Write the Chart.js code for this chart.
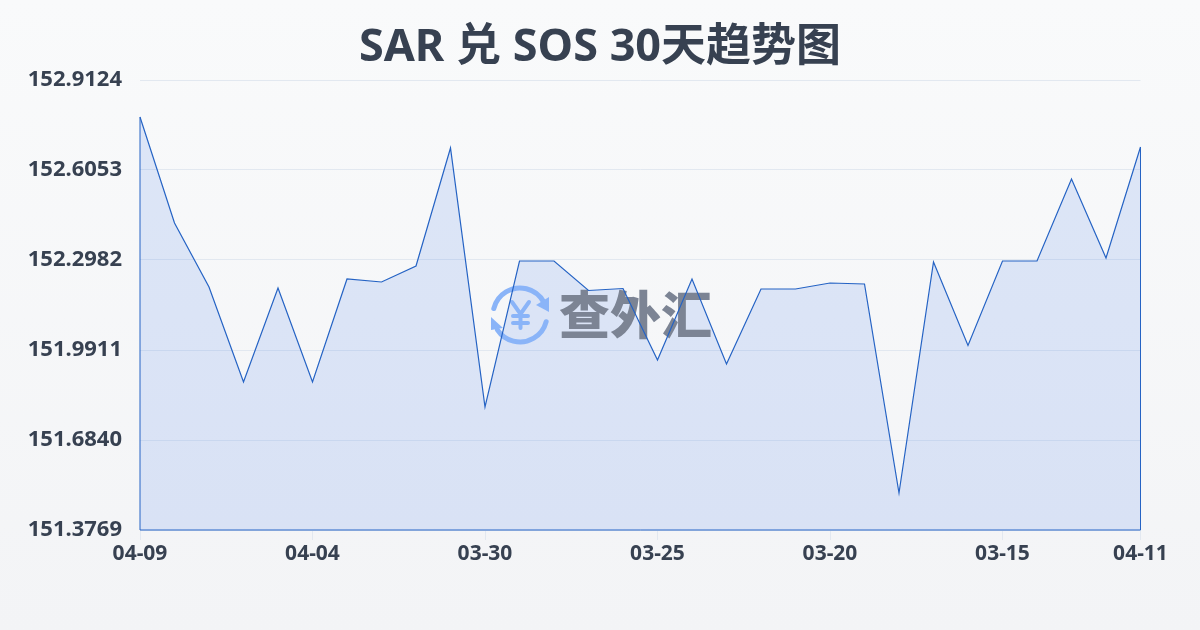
<!DOCTYPE html>
<html>
<head>
<meta charset="utf-8">
<style>
html, body { margin: 0; padding: 0; width: 1200px; height: 630px; overflow: hidden; background: linear-gradient(180deg, #f9fafb, #f3f4f6); }
canvas { display: block; }
</style>
<script src="https://cdn.jsdelivr.net/npm/chart.js@4/dist/chart.umd.min.js"></script>
</head>
<body>
<canvas id="rateChart" width="1200" height="630"></canvas>
<script>
const ctx = document.getElementById('rateChart');
const fontFamily = '"Noto Sans", "Noto Sans CJK SC", sans-serif';

// Data
const dates = ['04-09', '04-08', '04-07', '04-06', '04-05', '04-04', '04-03', '04-02', '04-01', '03-31',
    '03-30', '03-29', '03-28', '03-27', '03-26', '03-25', '03-24', '03-23', '03-22', '03-21',
    '03-20', '03-19', '03-18', '03-17', '03-16', '03-15', '03-14', '03-13', '03-12', '04-11'];
const rates = [152.7862, 152.4244, 152.2061, 151.8819, 152.2027, 151.8819, 152.2334, 152.2231, 152.2777, 152.6804,
    151.7966, 152.2948, 152.2948, 152.1941, 152.2009, 151.9570, 152.2334, 151.9433, 152.1992, 152.1992,
    152.2197, 152.2163, 151.5032, 152.2914, 152.0065, 152.2948, 152.2948, 152.5746, 152.3050, 152.6838];
const xTicks = ['04-09', '04-04', '03-30', '03-25', '03-20', '03-15', '04-11'];
const yTicks = [151.3769, 151.6840, 151.9911, 152.2982, 152.6053, 152.9124];

const lineColor = '#2563c4';

// Closes the area outline down the sides and along the bottom
const areaFrame = {
    id: 'areaFrame',
    afterDatasetsDraw(chart) {
        const { left, right, bottom } = chart.chartArea;
        const points = chart.getDatasetMeta(0).data;
        const c = chart.ctx;
        c.save();
        c.strokeStyle = lineColor;
        c.lineWidth = 1;
        c.beginPath();
        c.moveTo(left, points[0].y);
        c.lineTo(left, bottom);
        c.lineTo(right, bottom);
        c.lineTo(right, points[points.length - 1].y);
        c.stroke();
        c.restore();
    }
};

// Logo and site name, sits between the fill and the line
const watermark = {
    id: 'watermark',
    afterDatasetDraw(chart, args) {
        if (args.index !== 1) return;
        const c = chart.ctx;
        c.save();
        c.strokeStyle = c.fillStyle = '#8ab4f8';
        c.lineWidth = 5;
        c.lineCap = 'round';
        c.beginPath();
        c.arc(520, 315, 27, -2.9, -0.5);
        c.stroke();
        c.beginPath();
        c.arc(520, 315, 27, 0.25, 2.56);
        c.stroke();
        c.beginPath();
        c.moveTo(549, 297); c.lineTo(549, 312); c.lineTo(536, 305);
        c.closePath();
        c.fill();
        c.beginPath();
        c.moveTo(491, 317); c.lineTo(491, 330); c.lineTo(503, 328);
        c.closePath();
        c.fill();
        c.lineWidth = 4;
        c.beginPath();
        c.moveTo(512, 302); c.lineTo(520.5, 314); c.lineTo(529, 302);
        c.moveTo(520.5, 314); c.lineTo(520.5, 328);
        c.moveTo(513, 316); c.lineTo(528, 316);
        c.moveTo(513, 323); c.lineTo(528, 323);
        c.stroke();
        c.fillStyle = '#7c8494';
        c.font = '900 51px "Noto Sans CJK SC", sans-serif';
        c.textAlign = 'left';
        c.textBaseline = 'middle';
        c.fillText('查外汇', 559, 315);
        c.restore();
    }
};

new Chart(ctx, {
    type: 'line',
    data: {
        labels: dates,
        datasets: [
            {
                data: rates,
                borderColor: lineColor,
                borderWidth: 1.2,
                fill: false,
                tension: 0,
                pointRadius: 0
            },
            {
                data: rates,
                borderWidth: 0,
                backgroundColor: 'rgba(37, 99, 235, 0.13)',
                fill: 'start',
                tension: 0,
                pointRadius: 0
            }
        ]
    },
    options: {
        responsive: false,
        animation: false,
        layout: { padding: 0 },
        plugins: {
            legend: { display: false },
            tooltip: { enabled: false },
            title: {
                display: true,
                text: 'SAR 兑 SOS 30天趋势图',
                color: '#374151',
                font: { family: fontFamily, size: 45, weight: 'bold' },
                padding: { top: 21, bottom: 5 }
            }
        },
        scales: {
            x: {
                offset: false,
                grid: { drawOnChartArea: false, color: '#e2e8f0', tickLength: 10 },
                border: { display: false },
                ticks: {
                    autoSkip: false,
                    maxRotation: 0,
                    padding: 1,
                    color: '#374151',
                    font: { family: fontFamily, size: 21, weight: 'bold' }
                },
                afterBuildTicks(scale) {
                    scale.ticks = scale.ticks.filter(t => xTicks.includes(dates[t.value]));
                },
                afterFit(scale) { scale.height = 100; }
            },
            y: {
                min: yTicks[0],
                max: yTicks[yTicks.length - 1],
                grid: { color: '#e2e8f0', drawTicks: false },
                border: { display: false },
                ticks: {
                    padding: 18,
                    color: '#374151',
                    font: { family: fontFamily, size: 22, weight: 'bold' },
                    callback: v => v.toFixed(4)
                },
                afterBuildTicks(scale) {
                    scale.ticks = yTicks.map(v => ({ value: v }));
                },
                afterFit(scale) { scale.width = 140; }
            },
            // empty axis, only keeps the right margin without moving the title
            yRight: {
                position: 'right',
                grid: { display: false },
                border: { display: false },
                ticks: { display: false },
                afterFit(scale) { scale.width = 59.5; }
            }
        }
    },
    plugins: [watermark, areaFrame]
});
</script>
</body>
</html>
